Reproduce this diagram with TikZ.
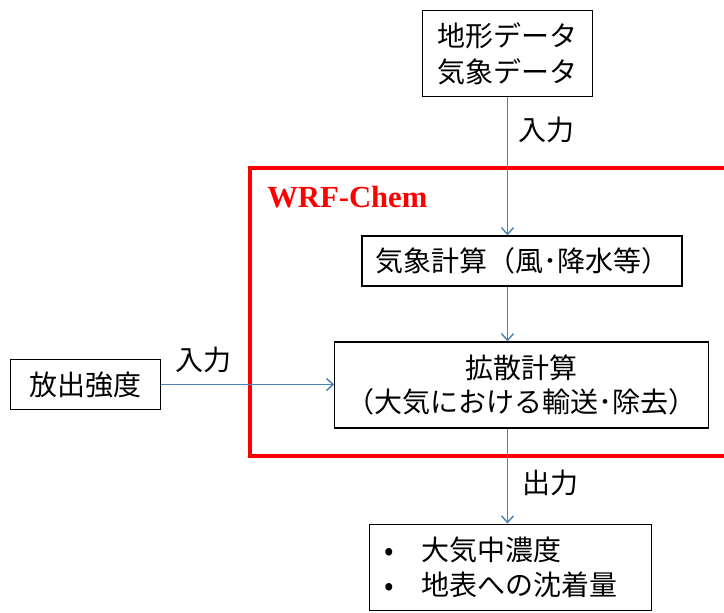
\documentclass[tikz,border=0pt]{standalone}
\usepackage{fontspec}
\setmainfont{Noto Sans CJK JP}
\newfontfamily\wrffont{Liberation Serif}
\usetikzlibrary{arrows.meta}
\definecolor{flowblue}{RGB}{79,129,189}
\definecolor{wrfred}{RGB}{255,0,0}

\begin{document}
\begin{tikzpicture}[x=0.75pt, y=-0.75pt, >={Straight Barb[length=5pt,width=9pt]},
  box/.style={draw, line width=0.9pt, inner sep=0pt, align=center, font=\fontsize{21}{27}\selectfont},
  flow/.style={->, draw=flowblue, line width=1.1pt},
  lbl/.style={font=\fontsize{21}{27}\selectfont, inner sep=0pt}]

        \useasboundingbox (0,0) rectangle (724,612);

        % Frame
        \draw[wrfred, line width=2.5pt] (724,168) -- (250,168) -- (250,456) -- (724,456);
        \node[anchor=base west, text=wrfred, inner sep=0pt, font=\wrffont\bfseries\fontsize{23}{27}\selectfont] (wrf) at (267,207) {WRF-Chem};

        % Nodes
        \node[box, minimum width=128pt, minimum height=65pt] (data) at (507.5,53.5) {地形データ\\気象データ};
        \node[box, minimum width=240pt, minimum height=37.5pt] (met) at (522,261) {気象計算（風･降水等）};
        \node[box, minimum width=280pt, minimum height=64.5pt, font=\fontsize{21}{26}\selectfont] (diff) at (521.5,385) {拡散計算\\（大気における輸送･除去）};
        \node[box, minimum width=112pt, minimum height=37pt] (emis) at (85.5,384.5) {放出強度};
        \node[box, minimum width=211pt, minimum height=65pt, text width=189pt, align=left, font=\fontsize{21}{26}\selectfont] (res) at (510.5,567.5)
          {\makebox[28pt][l]{•}大気中濃度\\\makebox[28pt][l]{•}地表への沈着量};

        % Labels
        \node[lbl, anchor=west] (in1) at (518,130) {入力};
        \node[lbl, anchor=west] (in2) at (175,360) {入力};
        \node[lbl, anchor=west] (outlbl) at (522,483) {出力};

        % Edges
        \draw[flow] (data.south) -- (data.south |- met.north);
        \draw[flow] (met.south -| data.south) -- (diff.north -| data.south);
        \draw[flow] (emis.east) -- (emis.east -| diff.west);
        \draw[flow] (diff.south -| data.south) -- (res.north -| data.south);

    \end{tikzpicture}
\end{document}
